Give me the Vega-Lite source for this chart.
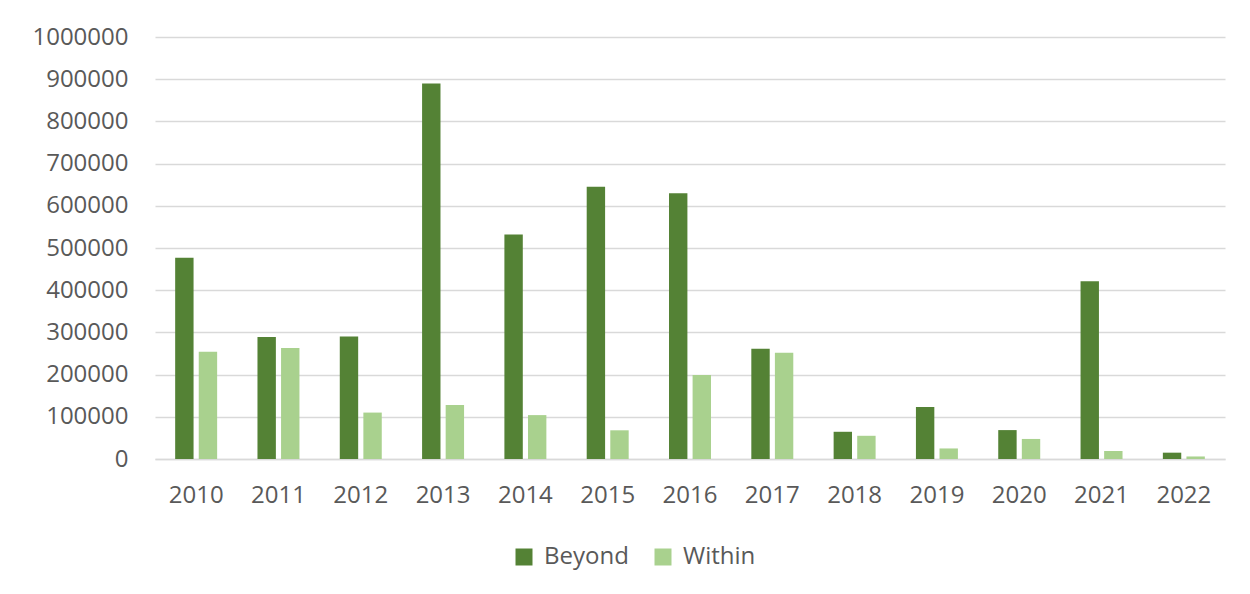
{
  "$schema": "https://vega.github.io/schema/vega-lite/v6.json",
  "width": 1070,
  "height": 422,
  "autosize": {"type": "none"},
  "padding": {"left": 155, "top": 37, "right": 25, "bottom": 135},
  "background": "white",
  "data": {
    "values": [
      {"year": "2010", "type": "Beyond", "value": 477000},
      {"year": "2010", "type": "Within", "value": 254000},
      {"year": "2011", "type": "Beyond", "value": 289000},
      {"year": "2011", "type": "Within", "value": 263000},
      {"year": "2012", "type": "Beyond", "value": 290000},
      {"year": "2012", "type": "Within", "value": 110000},
      {"year": "2013", "type": "Beyond", "value": 890000},
      {"year": "2013", "type": "Within", "value": 128000},
      {"year": "2014", "type": "Beyond", "value": 532000},
      {"year": "2014", "type": "Within", "value": 104000},
      {"year": "2015", "type": "Beyond", "value": 645000},
      {"year": "2015", "type": "Within", "value": 68000},
      {"year": "2016", "type": "Beyond", "value": 630000},
      {"year": "2016", "type": "Within", "value": 199000},
      {"year": "2017", "type": "Beyond", "value": 261000},
      {"year": "2017", "type": "Within", "value": 252000},
      {"year": "2018", "type": "Beyond", "value": 64500},
      {"year": "2018", "type": "Within", "value": 55000},
      {"year": "2019", "type": "Beyond", "value": 123000},
      {"year": "2019", "type": "Within", "value": 25000},
      {"year": "2020", "type": "Beyond", "value": 68500},
      {"year": "2020", "type": "Within", "value": 47500},
      {"year": "2021", "type": "Beyond", "value": 421000},
      {"year": "2021", "type": "Within", "value": 19000},
      {"year": "2022", "type": "Beyond", "value": 15000},
      {"year": "2022", "type": "Within", "value": 6000}
    ]
  },
  "mark": {"type": "bar"},
  "encoding": {
    "x": {
      "field": "year",
      "type": "nominal",
      "title": null,
      "scale": {"paddingInner": 0.49, "paddingOuter": 0.245},
      "axis": {
        "labelAngle": 0,
        "labelFont": "Open Sans",
        "labelFontSize": 24,
        "labelColor": "#595959",
        "labelPadding": 24,
        "ticks": false,
        "domainColor": "#D9D9D9",
        "domainWidth": 1.5,
        "grid": false
      }
    },
    "xOffset": {
      "field": "type",
      "type": "nominal",
      "scale": {"paddingInner": 0.22, "paddingOuter": 0}
    },
    "y": {
      "field": "value",
      "type": "quantitative",
      "title": null,
      "scale": {"domain": [0, 1000000], "nice": false},
      "axis": {
        "values": [0, 100000, 200000, 300000, 400000, 500000, 600000, 700000, 800000, 900000, 1000000],
        "format": "d",
        "labelFont": "Open Sans",
        "labelFontSize": 24,
        "labelColor": "#595959",
        "labelPadding": 27,
        "ticks": false,
        "domain": false,
        "gridColor": "#D9D9D9",
        "gridWidth": 1.5
      }
    },
    "color": {
      "field": "type",
      "type": "nominal",
      "title": null,
      "scale": {"domain": ["Beyond", "Within"], "range": ["#548235", "#A9D18E"]},
      "legend": {
        "orient": "none",
        "direction": "horizontal",
        "legendX": 357,
        "legendY": 508,
        "symbolType": "square",
        "symbolSize": 289,
        "symbolStrokeWidth": 0,
        "labelFont": "Open Sans",
        "labelFontSize": 24,
        "labelColor": "#595959",
        "labelOffset": 8,
        "columnPadding": 22
      }
    }
  },
  "config": {"view": {"stroke": null}}
}
